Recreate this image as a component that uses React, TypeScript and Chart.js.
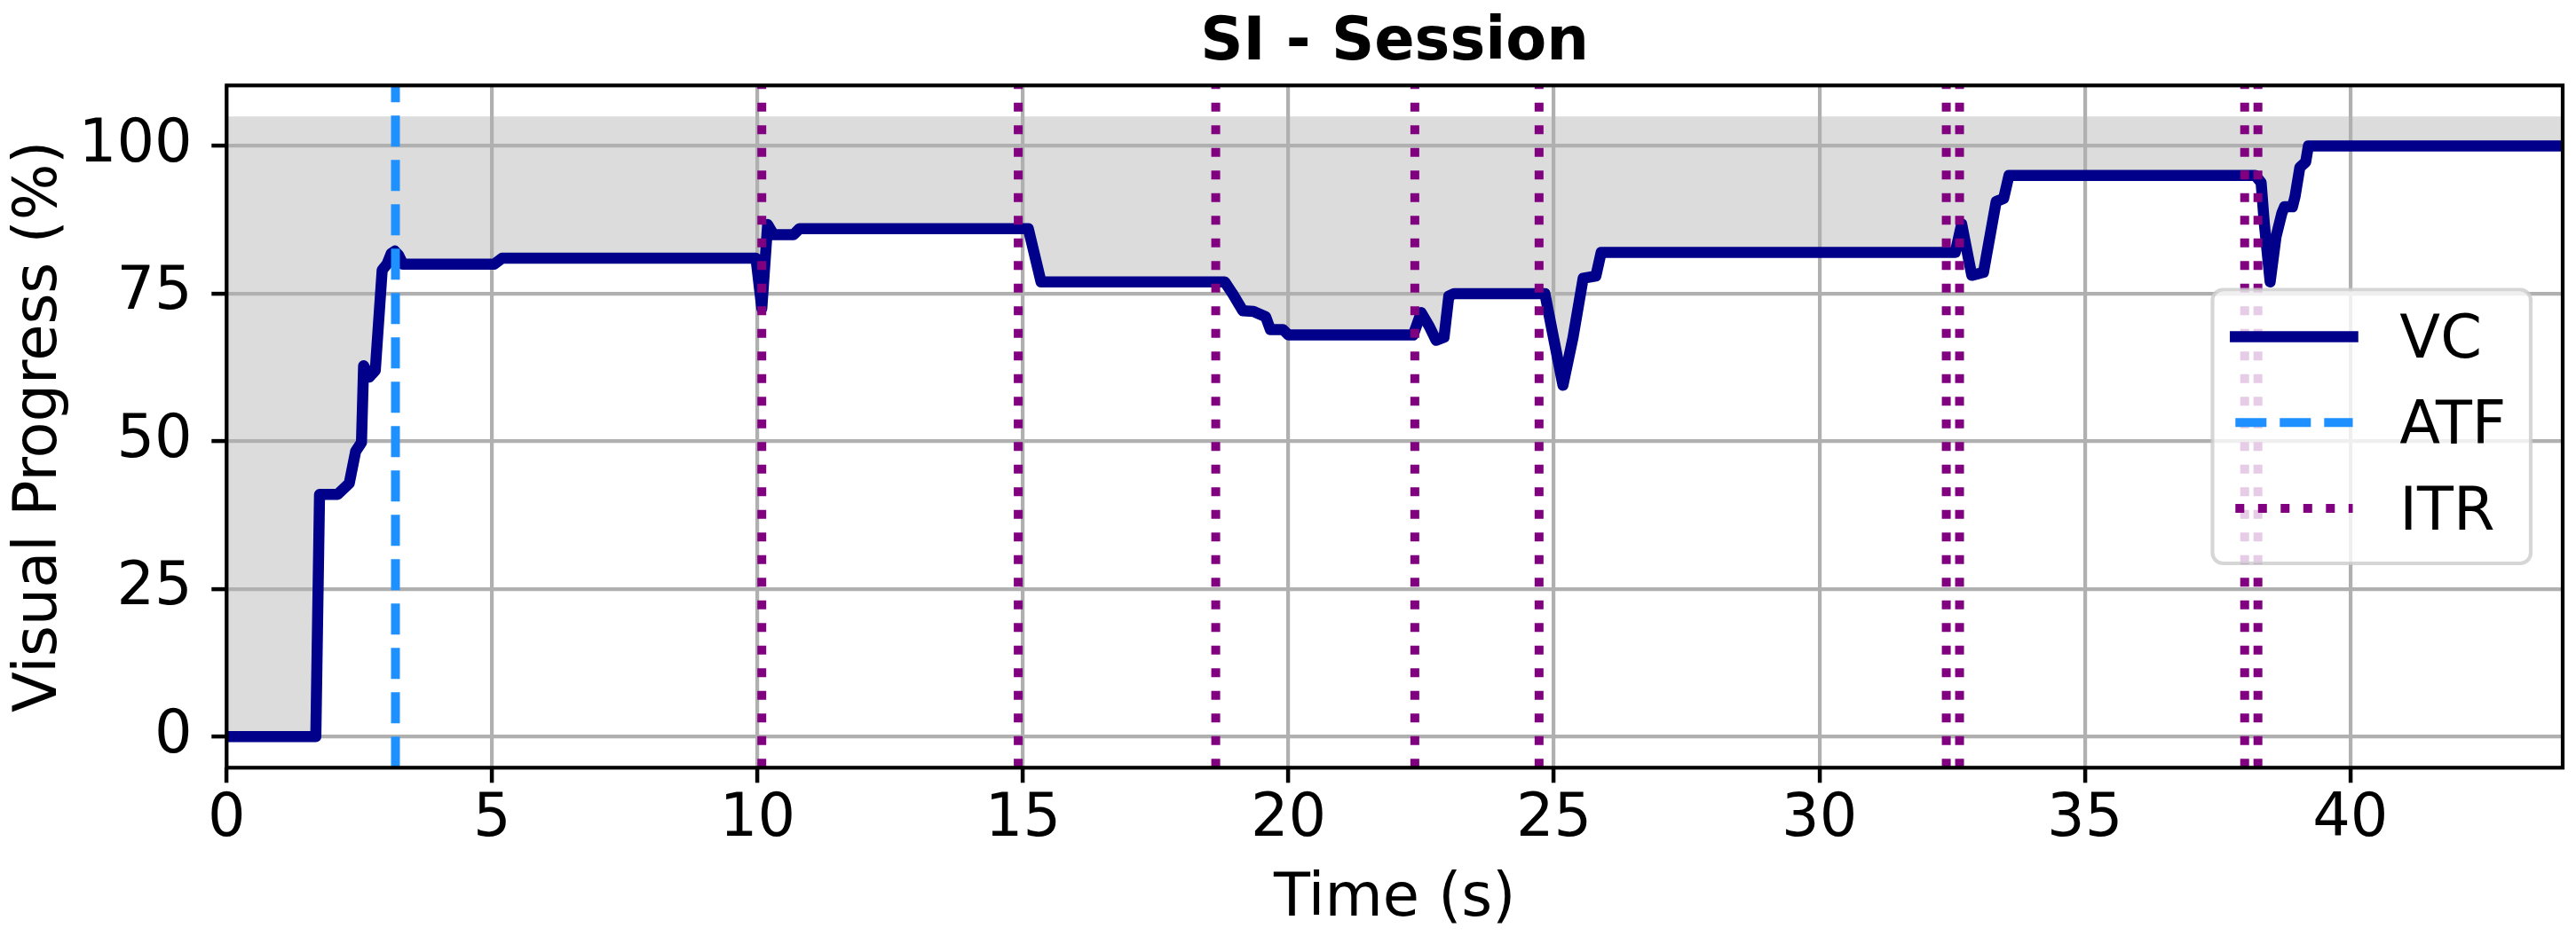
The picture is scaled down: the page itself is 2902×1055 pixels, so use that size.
import React, { useEffect, useRef } from 'react';
import { Chart, registerables } from 'chart.js';

Chart.register(...registerables);

// ---------------- data ----------------
const timeS = [
  0, 1.68, 1.75, 2.09, 2.31, 2.43, 2.54, 2.58, 2.69, 2.8, 2.93, 3.02, 3.1, 3.17, 3.24, 3.32,
  5.04, 5.19, 9.97, 10.08, 10.19, 10.3, 10.68, 10.79, 15.1, 15.34, 18.8, 18.94, 19.14, 19.34,
  19.57, 19.66, 19.9, 20.0, 22.35, 22.5, 22.65, 22.78, 22.93, 23.02, 23.12, 24.83, 24.98,
  25.17, 25.36, 25.55, 25.79, 25.89, 32.56, 32.68, 32.87, 33.09, 33.33, 33.47, 33.57, 38.21,
  38.32, 38.38, 38.49, 38.6, 38.71, 38.76, 38.91, 38.96, 39.05, 39.16, 39.21, 44,
];
const vcPercent = [
  0, 0, 41, 41, 42.9, 48.3, 49.8, 62.8, 60.9, 62, 79, 80, 81.8, 82.2, 81.5, 80,
  80, 81, 81, 72.5, 86.7, 85, 85, 86, 86, 77, 77, 75.1, 72.1, 72,
  71.1, 68.9, 68.9, 68, 68, 71.8, 69.5, 67.1, 67.6, 74.6, 75, 75, 68.1,
  59.5, 67.6, 77.6, 78, 82, 82, 86.8, 78.1, 78.6, 90.6, 91.1, 95, 95,
  93.8, 86.9, 77, 84.6, 88.6, 89.7, 89.7, 91.5, 96.4, 97.3, 100, 100,
];
const atfTimes = [3.18];
const itrTimes = [10.08, 14.91, 18.63, 22.38, 24.72, 32.39, 32.64, 38.01, 38.26];

const xTickValues = [0, 5, 10, 15, 20, 25, 30, 35, 40];
const yTickValues = [0, 25, 50, 75, 100];
const X_MIN = 0;
const X_MAX = 44;
const Y_MIN = -5.25;
const Y_MAX = 110.25;
const FILL_TOP = 105;

const chartTitle = 'SI - Session';
const xAxisTitle = 'Time (s)';
const yAxisTitle = 'Visual Progress (%)';
const legendLabels = ['VC', 'ATF', 'ITR'];

// ---------------- styles ----------------
const W = 2902;
const H = 1055;
const FONT = '"DejaVu Sans", "Liberation Sans", sans-serif';
const FS = 67;
const VC_COLOR = '#00008B';
const ATF_COLOR = '#1E90FF';
const ITR_COLOR = '#800080';
const FILL_COLOR = '#DCDCDC';
const GRID_COLOR = '#B0B0B0';
const VC_W = 12.5;
const MARK_W = 10;
const ATF_DASH = [35, 15];
const ITR_DASH = [10, 15.5];
const SPINE_W = 4.2;

const AREA_LEFT = 255.3;
const AREA_TOP = 96.3;
const AREA_RIGHT = 2887;
const AREA_BOTTOM = 865.3;

const decorPlugin = {
  id: 'decor',
  afterDatasetsDraw(chart: any) {
    const { ctx, chartArea: a } = chart;
    ctx.save();
    ctx.strokeStyle = '#000';
    ctx.lineWidth = SPINE_W;
    ctx.lineJoin = 'miter';
    ctx.strokeRect(a.left, a.top, a.right - a.left, a.bottom - a.top);
    ctx.restore();
  },
  afterDraw(chart: any) {
    const { ctx, chartArea: a } = chart;
    const cx = (a.left + a.right) / 2;
    const cy = (a.top + a.bottom) / 2;
    ctx.save();
    ctx.fillStyle = '#000';
    ctx.textBaseline = 'alphabetic';
    // title
    ctx.font = `bold ${FS}px ${FONT}`;
    ctx.textAlign = 'center';
    ctx.fillText(chartTitle, cx, a.top - 29.6);
    // x title
    ctx.font = `${FS}px ${FONT}`;
    ctx.fillText(xAxisTitle, cx, a.bottom + 166.4);
    // y title
    ctx.save();
    ctx.translate(a.left - 192.3, cy);
    ctx.rotate(-Math.PI / 2);
    ctx.fillText(yAxisTitle, 0, 0);
    ctx.restore();

    // legend
    const bx0 = a.right - 394.5;
    const bx1 = a.right - 36;
    const by0 = cy - 154.3;
    const by1 = cy + 154.2;
    const r = 12;
    ctx.beginPath();
    ctx.moveTo(bx0 + r, by0);
    ctx.lineTo(bx1 - r, by0);
    ctx.arcTo(bx1, by0, bx1, by0 + r, r);
    ctx.lineTo(bx1, by1 - r);
    ctx.arcTo(bx1, by1, bx1 - r, by1, r);
    ctx.lineTo(bx0 + r, by1);
    ctx.arcTo(bx0, by1, bx0, by1 - r, r);
    ctx.lineTo(bx0, by0 + r);
    ctx.arcTo(bx0, by0, bx0 + r, by0, r);
    ctx.closePath();
    ctx.fillStyle = 'rgba(255,255,255,0.8)';
    ctx.fill();
    ctx.lineWidth = SPINE_W;
    ctx.strokeStyle = 'rgba(204,204,204,0.8)';
    ctx.stroke();

    const styles = [
      { color: VC_COLOR, width: VC_W, dash: [] as number[], cap: 'square' },
      { color: ATF_COLOR, width: MARK_W, dash: ATF_DASH, cap: 'butt' },
      { color: ITR_COLOR, width: MARK_W, dash: ITR_DASH, cap: 'butt' },
    ];
    const rowsY = [cy - 101.3, cy - 4.6, cy + 92.1];
    const lx0 = a.right - 368.7;
    const lx1 = a.right - 236.5;
    legendLabels.forEach((label, i) => {
      const s = styles[i];
      const y = rowsY[i];
      ctx.save();
      ctx.beginPath();
      ctx.setLineDash(s.dash);
      ctx.lineCap = s.cap as CanvasLineCap;
      ctx.strokeStyle = s.color;
      ctx.lineWidth = s.width;
      ctx.moveTo(lx0, y);
      ctx.lineTo(lx1, y);
      ctx.stroke();
      ctx.restore();
      ctx.fillStyle = '#000';
      ctx.textAlign = 'left';
      ctx.font = `${FS}px ${FONT}`;
      ctx.fillText(label, a.right - 183.7, y + 23.6);
    });
    ctx.restore();
  },
};

export default function App() {
  const canvasRef = useRef<HTMLCanvasElement | null>(null);

  useEffect(() => {
    const canvas = canvasRef.current;
    if (!canvas) return;

    const vcData = timeS.map((t, i) => ({ x: t, y: vcPercent[i] }));
    const vline = (t: number) => [
      { x: t, y: Y_MIN },
      { x: t, y: Y_MAX },
    ];

    const datasets: any[] = [];
    itrTimes.forEach((t) => {
      datasets.push({
        label: 'ITR',
        data: vline(t),
        borderColor: ITR_COLOR,
        borderWidth: MARK_W,
        borderDash: ITR_DASH,
        borderCapStyle: 'butt',
        pointRadius: 0,
        fill: false,
        order: 0,
      });
    });
    atfTimes.forEach((t) => {
      datasets.push({
        label: 'ATF',
        data: vline(t),
        borderColor: ATF_COLOR,
        borderWidth: MARK_W,
        borderDash: ATF_DASH,
        borderCapStyle: 'butt',
        pointRadius: 0,
        fill: false,
        order: 1,
      });
    });
    datasets.push({
      label: 'VC',
      data: vcData,
      borderColor: VC_COLOR,
      backgroundColor: FILL_COLOR,
      borderWidth: VC_W,
      borderJoinStyle: 'round',
      borderCapStyle: 'butt',
      pointRadius: 0,
      tension: 0,
      fill: { value: FILL_TOP },
      order: 2,
    });

    const tickFont = { family: FONT, size: FS };

    const chart = new Chart(canvas, {
      type: 'line',
      data: { datasets },
      options: {
        animation: false,
        responsive: false,
        devicePixelRatio: 1,
        layout: {
          padding: { left: 0, top: AREA_TOP, right: W - AREA_RIGHT, bottom: 0 },
        },
        plugins: {
          legend: { display: false },
          title: { display: false },
          tooltip: { enabled: false },
          filler: { drawTime: 'beforeDraw' },
        },
        scales: {
          x: {
            type: 'linear',
            min: X_MIN,
            max: X_MAX,
            afterBuildTicks: (axis: any) => {
              axis.ticks = xTickValues.map((v) => ({ value: v }));
            },
            afterFit: (scale: any) => {
              scale.height = H - AREA_BOTTOM;
            },
            ticks: {
              font: tickFont,
              color: '#000',
              padding: 2,
              maxRotation: 0,
              autoSkip: false,
              callback: (v: any) => String(v),
            },
            grid: {
              color: GRID_COLOR,
              lineWidth: SPINE_W,
              drawTicks: true,
              tickLength: 17,
              tickColor: '#000',
              tickWidth: 4.5,
            },
            border: { display: false },
          },
          y: {
            type: 'linear',
            min: Y_MIN,
            max: Y_MAX,
            afterBuildTicks: (axis: any) => {
              axis.ticks = yTickValues.map((v) => ({ value: v }));
            },
            afterFit: (scale: any) => {
              scale.width = AREA_LEFT;
            },
            ticks: {
              font: tickFont,
              color: '#000',
              padding: 21.6,
              autoSkip: false,
              callback: (v: any) => String(v),
            },
            grid: {
              color: GRID_COLOR,
              lineWidth: SPINE_W,
              drawTicks: true,
              tickLength: 17,
              tickColor: '#000',
              tickWidth: 4.5,
            },
            border: { display: false },
          },
        },
      } as any,
      plugins: [decorPlugin],
    });

    return () => {
      chart.destroy();
    };
  }, []);

  return (
    <div style={{ position: 'fixed', left: 0, top: 0, width: W, height: H, background: '#fff' }}>
      <canvas ref={canvasRef} width={W} height={H} style={{ display: 'block', width: W, height: H }} />
    </div>
  );
}
